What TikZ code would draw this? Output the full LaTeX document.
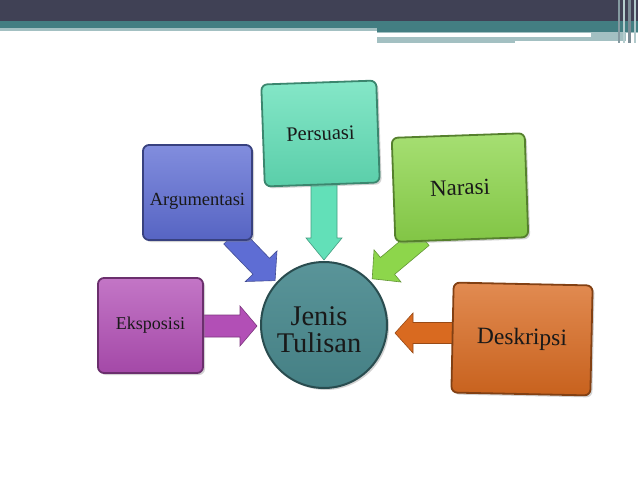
\documentclass[tikz,border=0pt]{standalone}
\usepackage{fontspec}
\setmainfont{Liberation Serif}
\usetikzlibrary{shadows}
\definecolor{bandDark}{HTML}{404155}
\definecolor{bandTeal}{HTML}{437E82}
\definecolor{bandLight}{HTML}{A3C0C2}
\definecolor{cEks}{HTML}{B24FB6}
\definecolor{cArg}{HTML}{5E6DD4}
\definecolor{cPer}{HTML}{62E0B8}
\definecolor{cNar}{HTML}{8DD64B}
\definecolor{cDes}{HTML}{D96A20}
\definecolor{cCir}{HTML}{4B8B90}
\newcommand\blockarrow[8]{%
  \begin{scope}[shift={(#1,#2)},rotate=#3]
    \path[fill=#8, draw=#8!70!black, line width=0.6pt]
      (0,-#5/2) -- (#4-#7,-#5/2) -- (#4-#7,-#6/2) -- (#4,0) --
      (#4-#7,#6/2) -- (#4-#7,#5/2) -- (0,#5/2) -- cycle;
  \end{scope}}
\tikzset{
  box/.style={rounded corners=6pt, line width=1.8pt, inner sep=2pt,
    align=center, text=black!90,
    drop shadow={opacity=0.35, shadow xshift=2pt, shadow yshift=-2pt}},
  boxcol/.style={top color=#1!78!white, bottom color=#1!92!black, draw=#1!60!black}
}
\begin{document}
\begin{tikzpicture}[x=1pt,y=-1pt]
\useasboundingbox[fill=white] (0,0) rectangle (638,479);
% banner
\fill[bandDark] (0,0) rectangle (638,21);
\fill[bandTeal] (0,21) rectangle (638,28);
\fill[bandLight] (0,28) rectangle (377,31);
\fill[bandTeal] (377,28) rectangle (638,32);
\fill[bandLight] (377,32) rectangle (638,33.3);
\fill[bandLight] (377,36.7) rectangle (515,43);
\fill[bandLight] (515,36.7) rectangle (626,40.7);
\fill[bandLight] (591,32) rectangle (626,40.7);
\fill[bandLight!70!bandDark] (618,0) rectangle (620,43);
\fill[bandLight!80!white] (623,0) rectangle (625,43);
\fill[bandLight!60!bandDark] (628,0) rectangle (631,43);
\fill[bandLight!85!white] (634,0) rectangle (636,43);
% arrows
\blockarrow{198}{326}{0}{59}{22}{40}{17}{cEks}
\blockarrow{232}{236}{-46}{62}{23}{44}{20}{cArg}
\blockarrow{324}{182}{-90}{78}{26}{36}{22}{cPer}
\blockarrow{422}{237}{-140}{65}{22}{42}{20}{cNar}
\blockarrow{456}{333}{180}{61}{21}{40}{18}{cDes}
% boxes
\node[box, boxcol=cEks, minimum width=105pt, minimum height=95pt,
  font=\fontsize{18}{20}\selectfont] (eks) at (150.5,325.5) {Eksposisi};
\node[box, boxcol=cArg, minimum width=109pt, minimum height=95pt,
  font=\fontsize{18.5}{21}\selectfont] (arg) at (197.5,192.5) {\raisebox{-13pt}[0pt][0pt]{Argumentasi}};
\node[box, boxcol=cPer, minimum width=115pt, minimum height=102pt, rotate=2,
  font=\fontsize{20.5}{23}\selectfont] (per) at (320.5,133.5) {Persuasi};
\node[box, boxcol=cNar, minimum width=133pt, minimum height=104pt, rotate=2,
  font=\fontsize{23}{25}\selectfont] (nar) at (460,187.5) {Narasi};
\node[box, boxcol=cDes, minimum width=139pt, minimum height=110pt, rotate=-1.2,
  font=\fontsize{23.5}{26}\selectfont] (des) at (522,339) {Deskripsi};
% centre
\node[circle, minimum size=126pt, inner sep=0pt,
  top color=cCir!92!white, bottom color=cCir!92!black, draw=cCir!55!black,
  line width=2pt,
  drop shadow={opacity=0.35, shadow xshift=2pt, shadow yshift=-2pt}] (c) at (324,325) {};
\node[align=center, text=black!90, font=\fontsize{28.5}{27}\selectfont]
  (ct) at (319,330) {Jenis\\Tulisan};
\end{tikzpicture}
\end{document}
